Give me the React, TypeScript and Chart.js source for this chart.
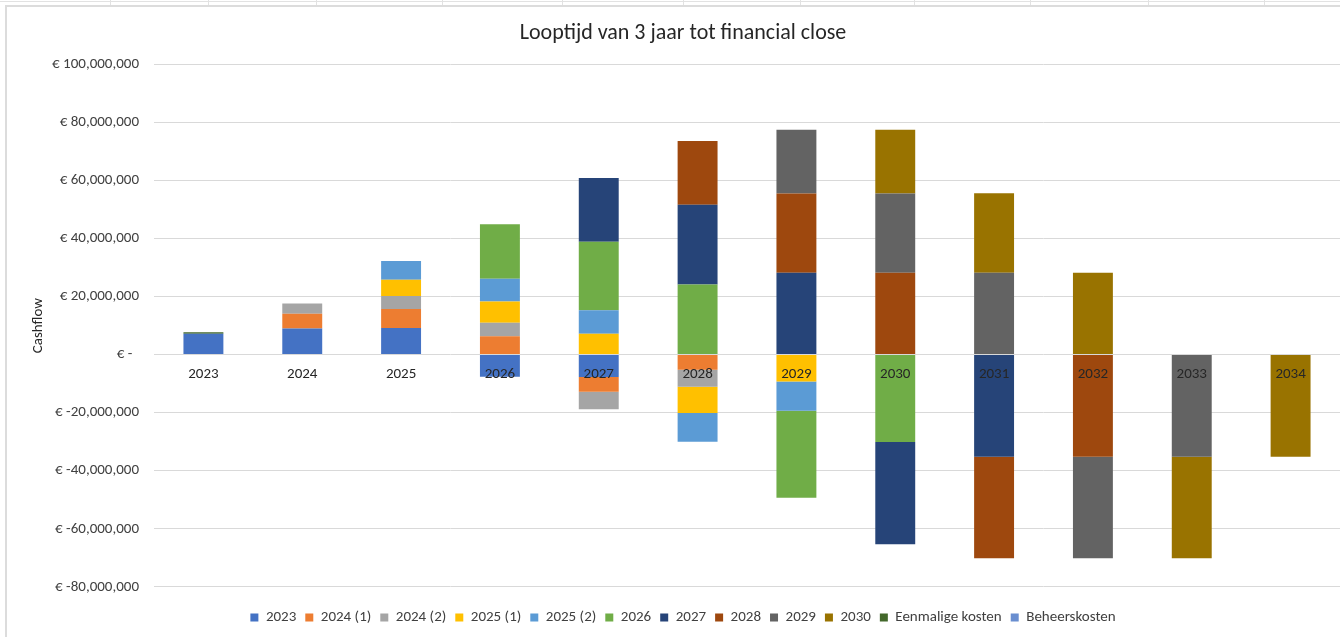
import React, { useEffect, useRef } from "react";
import { Chart, registerables } from "chart.js";

Chart.register(...registerables);

const categories = ["2023", "2024", "2025", "2026", "2027", "2028", "2029", "2030", "2031", "2032", "2033", "2034"];

const s2023 = [7200000, 9000000, 9200000, -7600000, -7700000, 0, 0, 0, 0, 0, 0, 0];
const s2024a = [0, 5100000, 6500000, 6300000, -5100000, -5200000, 0, 0, 0, 0, 0, 0];
const s2024b = [0, 3500000, 4500000, 4700000, -6000000, -5900000, 0, 0, 0, 0, 0, 0];
const s2025a = [0, 0, 5600000, 7300000, 7200000, -9000000, -9300000, 0, 0, 0, 0, 0];
const s2025b = [0, 0, 6500000, 7800000, 8100000, -9900000, -10000000, 0, 0, 0, 0, 0];
const s2026 = [0, 0, 0, 18800000, 23600000, 24200000, -30000000, -30100000, 0, 0, 0, 0];
const s2027 = [0, 0, 0, 0, 22000000, 27400000, 28200000, -35200000, -35200000, 0, 0, 0];
const s2028 = [0, 0, 0, 0, 0, 22000000, 27300000, 28200000, -35000000, -35200000, 0, 0];
const s2029 = [0, 0, 0, 0, 0, 0, 22000000, 27300000, 28200000, -35000000, -35200000, 0];
const s2030 = [0, 0, 0, 0, 0, 0, 0, 22000000, 27400000, 28200000, -35000000, -35200000];
const eenmalig = [500000, 0, 0, 0, 0, 0, 0, 0, 0, 0, 0, 0];
const beheer = [0, 0, 0, 0, 0, 0, 0, 0, 0, 0, 0, 0];

const seriesNames = ["2023", "2024 (1)", "2024 (2)", "2025 (1)", "2025 (2)", "2026", "2027", "2028", "2029", "2030", "Eenmalige kosten", "Beheerskosten"];
const seriesData = [s2023, s2024a, s2024b, s2025a, s2025b, s2026, s2027, s2028, s2029, s2030, eenmalig, beheer];
const seriesColors = ["#4472C4", "#ED7D31", "#A5A5A5", "#FFC000", "#5B9BD5", "#70AD47", "#264478", "#9E480E", "#636363", "#997300", "#43682B", "#698ED0"];

const yTickMin = -80000000;
const yTickMax = 100000000;
const yTickStep = 20000000;

const FONT = "Carlito, Lato, 'Open Sans', sans-serif";
const cellLines = [110, 208, 316, 442, 562, 683, 800, 914, 1030, 1148, 1264];

export default function App() {
  const ref = useRef<HTMLCanvasElement | null>(null);
  useEffect(() => {
    if (!ref.current) return;
    const chart = new Chart(ref.current, {
      type: "bar",
      data: {
        labels: categories,
        datasets: seriesNames.map((name, i) => ({
          label: name,
          data: seriesData[i],
          backgroundColor: seriesColors[i],
          borderWidth: 0,
          barPercentage: 0.404,
          categoryPercentage: 1,
        })),
      },
      options: {
        responsive: false,
        animation: false,
        devicePixelRatio: 1,
        layout: { padding: { top: 0, right: 0, bottom: 2, left: 0 } },
        plugins: {
          title: {
            display: true,
            text: "Looptijd van 3 jaar tot financial close",
            color: "#262626",
            font: { family: FONT, size: 22, weight: "normal" },
            padding: { top: 20, bottom: 18 },
          },
          legend: {
            position: "bottom",
            title: { display: true, text: "", font: { size: 1 }, padding: { top: 13, bottom: 0 } },
            labels: {
              boxWidth: 8,
              boxHeight: 8,
              padding: 9,
              color: "#404040",
              font: { family: FONT, size: 15 },
            },
          },
          tooltip: { enabled: false },
        },
        scales: {
          x: {
            stacked: true,
            position: { y: 0 },
            grid: { display: false },
            border: { display: false },
            ticks: { z: 1, color: "#262626", font: { family: FONT, size: 15 }, maxRotation: 0, autoSkip: false },
          },
          y: {
            stacked: true,
            min: yTickMin,
            max: yTickMax,
            grid: { color: "#D9D9D9", lineWidth: 1, drawTicks: false },
            border: { display: false },
            ticks: {
              stepSize: yTickStep,
              padding: 15,
              color: "#404040",
              font: { family: FONT, size: 15 },
              callback: (v: any) => (Number(v) === 0 ? "€ -  " : "€ " + Number(v).toLocaleString("en-US")),
            },
            title: {
              display: true,
              text: "Cashflow",
              color: "#262626",
              font: { family: FONT, size: 15 },
              padding: { top: 29, bottom: 0 },
            },
            afterFit: (s: any) => {
              s.width = 154;
            },
          },
          yRight: {
            type: "linear",
            position: "right",
            display: true,
            min: yTickMin,
            max: yTickMax,
            grid: { display: false },
            border: { display: false },
            ticks: { display: false },
            afterFit: (s: any) => {
              s.width = 26;
            },
          },
        },
      },
    });
    return () => chart.destroy();
  }, []);

  return (
    <div style={{ position: "fixed", left: 0, top: 0, width: 1340, height: 637, background: "#fff", overflow: "hidden" }}>
      <div style={{ position: "absolute", left: 0, top: 1, width: 1340, height: 1, background: "#E2E2E2" }} />
      {cellLines.map((x) => (
        <div key={x} style={{ position: "absolute", left: x, top: 0, width: 1, height: 5, background: "#E2E2E2" }} />
      ))}
      <div style={{ position: "absolute", left: 5, top: 5, width: 1335, height: 2, background: "#DCDCDC" }} />
      <div style={{ position: "absolute", left: 5, top: 5, width: 2, height: 632, background: "#DCDCDC" }} />
      <canvas ref={ref} width={1366} height={637} style={{ position: "absolute", left: 0, top: 0, width: 1366, height: 637 }} />
    </div>
  );
}
